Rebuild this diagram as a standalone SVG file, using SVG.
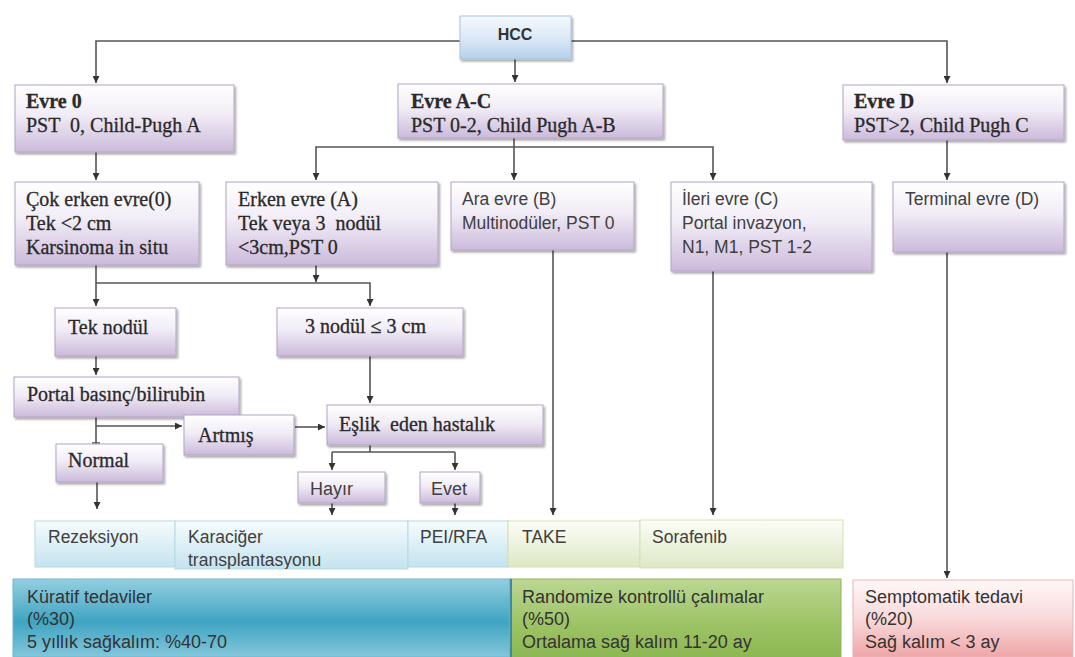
<svg xmlns="http://www.w3.org/2000/svg" width="1075" height="657" viewBox="0 0 1075 657">
  <defs>
    <linearGradient id="gPurple" x1="0" y1="0" x2="0" y2="1">
      <stop offset="0" stop-color="#ffffff"/>
      <stop offset="0.45" stop-color="#f1ecf6"/>
      <stop offset="1" stop-color="#cbbadb"/>
    </linearGradient>
    <linearGradient id="gBlue" x1="0" y1="0" x2="0" y2="1">
      <stop offset="0" stop-color="#f3f8fd"/>
      <stop offset="0.5" stop-color="#dde9f6"/>
      <stop offset="1" stop-color="#b6d0ea"/>
    </linearGradient>
    <linearGradient id="gCellBlue" x1="0" y1="0" x2="0" y2="1">
      <stop offset="0" stop-color="#f6fcfe"/>
      <stop offset="1" stop-color="#c4e3ee"/>
    </linearGradient>
    <linearGradient id="gCellGreen" x1="0" y1="0" x2="0" y2="1">
      <stop offset="0" stop-color="#fcfdf7"/>
      <stop offset="1" stop-color="#dde8c5"/>
    </linearGradient>
    <linearGradient id="gTeal" x1="0" y1="0" x2="0" y2="1">
      <stop offset="0" stop-color="#93cfe0"/>
      <stop offset="0.55" stop-color="#3fa4c2"/>
      <stop offset="1" stop-color="#84c7da"/>
    </linearGradient>
    <linearGradient id="gGreen" x1="0" y1="0" x2="0" y2="1">
      <stop offset="0" stop-color="#bcd793"/>
      <stop offset="0.6" stop-color="#9cc264"/>
      <stop offset="1" stop-color="#8cb852"/>
    </linearGradient>
    <linearGradient id="gPink" x1="0" y1="0" x2="0" y2="1">
      <stop offset="0" stop-color="#fff8f8"/>
      <stop offset="0.5" stop-color="#f9d9da"/>
      <stop offset="1" stop-color="#efa6a8"/>
    </linearGradient>
    <filter id="sh" x="-5%" y="-10%" width="115%" height="130%">
      <feDropShadow dx="1.5" dy="2" stdDeviation="1.2" flood-color="#000" flood-opacity="0.35"/>
    </filter>
    <marker id="ah" viewBox="0 0 10 10" refX="10" refY="5" markerWidth="7" markerHeight="7" markerUnits="userSpaceOnUse" orient="auto">
      <path d="M0,0 L10,5 L0,10 z" fill="#333"/>
    </marker>
    <clipPath id="clipKc">
      <rect x="175" y="521" width="233" height="48"/>
    </clipPath>
  </defs>
  <style>
    .box { fill: url(#gPurple); stroke: #b3a4c4; stroke-width: 1; filter: url(#sh); }
    .hcc { fill: url(#gBlue); stroke: #a9c3dc; stroke-width: 1; filter: url(#sh); }
    .cb { fill: url(#gCellBlue); stroke: #b6d9e5; stroke-width: 1; }
    .cg { fill: url(#gCellGreen); stroke: #d3e1b8; stroke-width: 1; }
    .serif { font-family: "Liberation Serif", serif; font-size: 20px; fill: #2a2a2a; stroke: #2a2a2a; stroke-width: 0.3; white-space: pre; }
    .sans { font-family: "Liberation Sans", sans-serif; font-size: 17.5px; fill: #404040; white-space: pre; }
    .big { font-size: 18px; fill: #333; }
    .b { font-weight: bold; }
    .conn path { stroke: #555; stroke-width: 1.6; fill: none; }
    .conn .arr { marker-end: url(#ah); }
  </style>

  <rect width="1075" height="657" fill="#ffffff"/>

  <!-- connectors -->
  <g class="conn">
    <path class="arr" d="M460,41 H96 V83"/>
    <path class="arr" d="M571,41 H947 V83"/>
    <path class="arr" d="M515,59 V82"/>
    <path class="arr" d="M96,152 V180"/>
    <path class="arr" d="M514,138 V180"/>
    <path class="arr" d="M514,147 H316 V180"/>
    <path class="arr" d="M514,147 H713 V180"/>
    <path class="arr" d="M947,140 V180"/>
    <path class="arr" d="M96,265 V306"/>
    <path class="arr" d="M96,283 H370 V306"/>
    <path class="arr" d="M316,265 V282"/>
    <path class="arr" d="M96,356 V375"/>
    <path d="M96,417 V443 M92,443 H100"/>
    <path class="arr" d="M96,426 H182"/>
    <path class="arr" d="M295,427 H325"/>
    <path class="arr" d="M370,356 V403"/>
    <path d="M370,445 V452 M332,452 H455"/>
    <path class="arr" d="M332,452 V470"/>
    <path class="arr" d="M455,452 V470"/>
    <path class="arr" d="M332,503 V515"/>
    <path class="arr" d="M455,503 V515"/>
    <path class="arr" d="M97,482 V509"/>
    <path class="arr" d="M553,250 V515"/>
    <path class="arr" d="M713,271 V515"/>
    <path class="arr" d="M947,252 V578"/>
  </g>

  <g id="hcc">
    <rect class="hcc" x="460" y="16" width="111" height="43"/>
    <text class="sans b" x="515" y="40" text-anchor="middle" style="font-size:16px;fill:#333">HCC</text>
  </g>

  <g id="evre0">
    <rect class="box" x="15" y="85" width="219" height="67"/>
    <text class="serif b" x="26" y="108">Evre 0</text>
    <text class="serif" x="26" y="132">PST  0, Child-Pugh A</text>
  </g>

  <g id="evreAC">
    <rect class="box" x="398" y="84" width="265" height="54"/>
    <text class="serif b" x="411" y="108">Evre A-C</text>
    <text class="serif" x="411" y="132">PST 0-2, Child Pugh A-B</text>
  </g>

  <g id="evreD">
    <rect class="box" x="843" y="85" width="221" height="55"/>
    <text class="serif b" x="854" y="108">Evre D</text>
    <text class="serif" x="854" y="132">PST&gt;2, Child Pugh C</text>
  </g>

  <g id="cokErken">
    <rect class="box" x="15" y="182" width="184" height="83"/>
    <text class="serif" x="26" y="206">Çok erken evre(0)</text>
    <text class="serif" x="26" y="230">Tek &lt;2 cm</text>
    <text class="serif" x="26" y="254">Karsinoma in situ</text>
  </g>

  <g id="erken">
    <rect class="box" x="226" y="182" width="212" height="83"/>
    <text class="serif" x="238" y="206">Erken evre (A)</text>
    <text class="serif" x="238" y="230">Tek veya 3  nodül</text>
    <text class="serif" x="238" y="254">&lt;3cm,PST 0</text>
  </g>

  <g id="ara">
    <rect class="box" x="451" y="182" width="183" height="68"/>
    <text class="sans" x="462" y="205">Ara evre (B)</text>
    <text class="sans" x="462" y="229">Multinodüler, PST 0</text>
  </g>

  <g id="ileri">
    <rect class="box" x="671" y="182" width="201" height="89"/>
    <text class="sans" x="682" y="205">İleri evre (C)</text>
    <text class="sans" x="682" y="229">Portal invazyon,</text>
    <text class="sans" x="682" y="253">N1, M1, PST 1-2</text>
  </g>

  <g id="terminal">
    <rect class="box" x="893" y="182" width="171" height="70"/>
    <text class="sans" x="905" y="205">Terminal evre (D)</text>
  </g>

  <g id="tekNodul">
    <rect class="box" x="55" y="308" width="121" height="48"/>
    <text class="serif" x="68" y="334">Tek nodül</text>
  </g>

  <g id="ucNodul">
    <rect class="box" x="277" y="308" width="186" height="48"/>
    <text class="serif" x="305" y="333">3 nodül ≤ 3 cm</text>
  </g>

  <g id="portal">
    <rect class="box" x="14" y="377" width="225" height="40"/>
    <text class="serif" x="27" y="401">Portal basınç/bilirubin</text>
  </g>

  <g id="artmis">
    <rect class="box" x="184" y="415" width="110" height="40"/>
    <text class="serif" x="198" y="442">Artmış</text>
  </g>

  <g id="eslik">
    <rect class="box" x="327" y="405" width="216" height="40"/>
    <text class="serif" x="339" y="431">Eşlik  eden hastalık</text>
  </g>

  <g id="normal">
    <rect class="box" x="56" y="444" width="107" height="38"/>
    <text class="serif" x="68" y="467">Normal</text>
  </g>

  <g id="hayir">
    <rect class="box" x="298" y="472" width="87" height="31"/>
    <text class="sans" x="310" y="495" style="font-size:18px">Hayır</text>
  </g>

  <g id="evet">
    <rect class="box" x="420" y="472" width="60" height="31"/>
    <text class="sans" x="431" y="495" style="font-size:18px">Evet</text>
  </g>

  <!-- treatment row -->
  <g id="rezeksiyon">
    <rect class="cb" x="35" y="521" width="140" height="46"/>
    <text class="sans" x="48" y="543">Rezeksiyon</text>
  </g>
  <g id="karaciger">
    <rect class="cb" x="175" y="521" width="233" height="48"/>
    <g clip-path="url(#clipKc)">
      <text class="sans" x="188" y="543">Karaciğer</text>
      <text class="sans" x="188" y="566">transplantasyonu</text>
    </g>
  </g>
  <g id="peiRfa">
    <rect class="cb" x="408" y="521" width="100" height="46"/>
    <text class="sans" x="420" y="543">PEI/RFA</text>
  </g>
  <g id="take">
    <rect class="cg" x="508" y="521" width="132" height="46"/>
    <text class="sans" x="522" y="543">TAKE</text>
  </g>
  <g id="sorafenib">
    <rect class="cg" x="640" y="520" width="203" height="48"/>
    <text class="sans" x="652" y="543">Sorafenib</text>
  </g>

  <!-- outcome row -->
  <g id="kuratif">
    <rect x="13" y="579" width="497" height="78" fill="url(#gTeal)" stroke="#6fb6cc" stroke-width="1"/>
    <text class="sans big" x="27" y="603">Küratif tedaviler</text>
    <text class="sans big" x="27" y="625">(%30)</text>
    <text class="sans big" x="27" y="648">5 yıllık sağkalım: %40-70</text>
  </g>
  <g id="randomize">
    <rect x="510" y="579" width="331" height="78" fill="url(#gGreen)" stroke="#8fb55a" stroke-width="1"/>
    <path d="M511,579 V657" stroke="#3f8aa2" stroke-width="2"/>
    <text class="sans big" x="522" y="603">Randomize kontrollü çalımalar</text>
    <text class="sans big" x="522" y="625">(%50)</text>
    <text class="sans big" x="522" y="648">Ortalama sağ kalım 11-20 ay</text>
  </g>
  <g id="semptomatik">
    <rect x="853" y="580" width="220" height="77" fill="url(#gPink)" stroke="#e8b4b6" stroke-width="1"/>
    <text class="sans big" x="865" y="603">Semptomatik tedavi</text>
    <text class="sans big" x="865" y="625">(%20)</text>
    <text class="sans big" x="865" y="648">Sağ kalım &lt; 3 ay</text>
  </g>
</svg>
